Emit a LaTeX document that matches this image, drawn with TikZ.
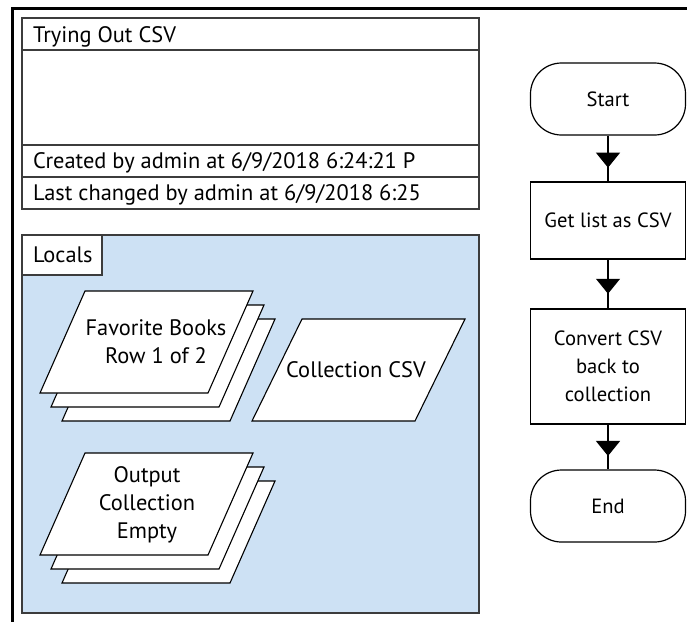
\documentclass[tikz,border=0pt]{standalone}
\usepackage{fontspec}
\setmainfont{PT Sans}
\usepackage{tikz}
\usetikzlibrary{arrows.meta}
\usetikzlibrary{decorations.markings}

\definecolor{localsblue}{RGB}{205,225,244}
\definecolor{boxgray}{RGB}{60,60,60}

\tikzset{
  panel/.style={draw=boxgray,line width=1.2pt},
  plain/.style={font=\fontsize{22.4}{28}\selectfont,inner sep=0pt},
  sheet/.style={draw=black,fill=white,line width=1.1pt},
  flowbox/.style={draw,line width=1.2pt,fill=white,minimum width=155pt,align=center,
    inner sep=2pt,font=\fontsize{20.6}{28}\selectfont},
  terminal/.style={flowbox,rounded corners=31pt,minimum height=72pt},
  flowline/.style={line width=1.2pt,postaction={decorate},
    decoration={markings,mark=at position 0.7 with {\arrow{Triangle[width=24pt,length=15pt]}}}}
}
\newcommand{\sheetat}[2]{\draw[sheet] (#1,#2) -- ++(168,0) -- ++(-45,102) -- ++(-168,0) -- cycle;}

\begin{document}
\begin{tikzpicture}[x=1pt,y=-1pt,>=Stealth]
        \useasboundingbox (0,0) rectangle (687,622);
        \draw [line width=3pt] (687,8) -- (12,8) -- (12,622);
        % header
        \draw [panel] (22,18) rectangle (479,209);
        \draw [panel] (22,50) -- (479,50) (22,145) -- (479,145) (22,177) -- (479,177);
        \node [plain,anchor=base west] (title) at (33,42) {Trying Out CSV};
        \node [plain,anchor=base west] (created) at (33,168) {Created by admin at 6/9/2018 6:24:21 P};
        \node [plain,anchor=base west] (changed) at (33,200) {Last changed by admin at 6/9/2018 6:25};
        % locals
        \draw [panel,fill=localsblue] (22,235) rectangle (479,613);
        \draw [panel,fill=white] (22,235) rectangle (102,275);
        \node [plain,anchor=base west] (locals) at (33,262) {Locals};
        \foreach \dx/\dy in {22/28,11/14,0/0} {\sheetat{85+\dx}{291+\dy}}
        \node [plain,align=center] (books) at (156,342) {Favorite Books\\Row 1 of 2};
        \draw [sheet] (302,319) -- (465,319) -- (415,421) -- (252,421) -- cycle;
        \node [plain] (csv) at (356,370) {Collection CSV};
        \foreach \dx/\dy in {22/28,11/14,0/0} {\sheetat{85+\dx}{453+\dy}}
        \node [plain,align=center] (output) at (147,505) {Output\\Collection\\Empty};
        % flow
        \node [terminal] (start) at (608,99) {Start};
        \node [flowbox,minimum height=77pt] (getcsv) at (608,220.5) {Get list as CSV};
        \node [flowbox,minimum height=115pt] (convert) at (608,366.5) {Convert CSV\\back to\\collection};
        \node [terminal] (end) at (608,506) {End};
        \draw [flowline] (start) -- (getcsv);
        \draw [flowline] (getcsv) -- (convert);
        \draw [flowline] (convert) -- (end);
    \end{tikzpicture}
\end{document}
